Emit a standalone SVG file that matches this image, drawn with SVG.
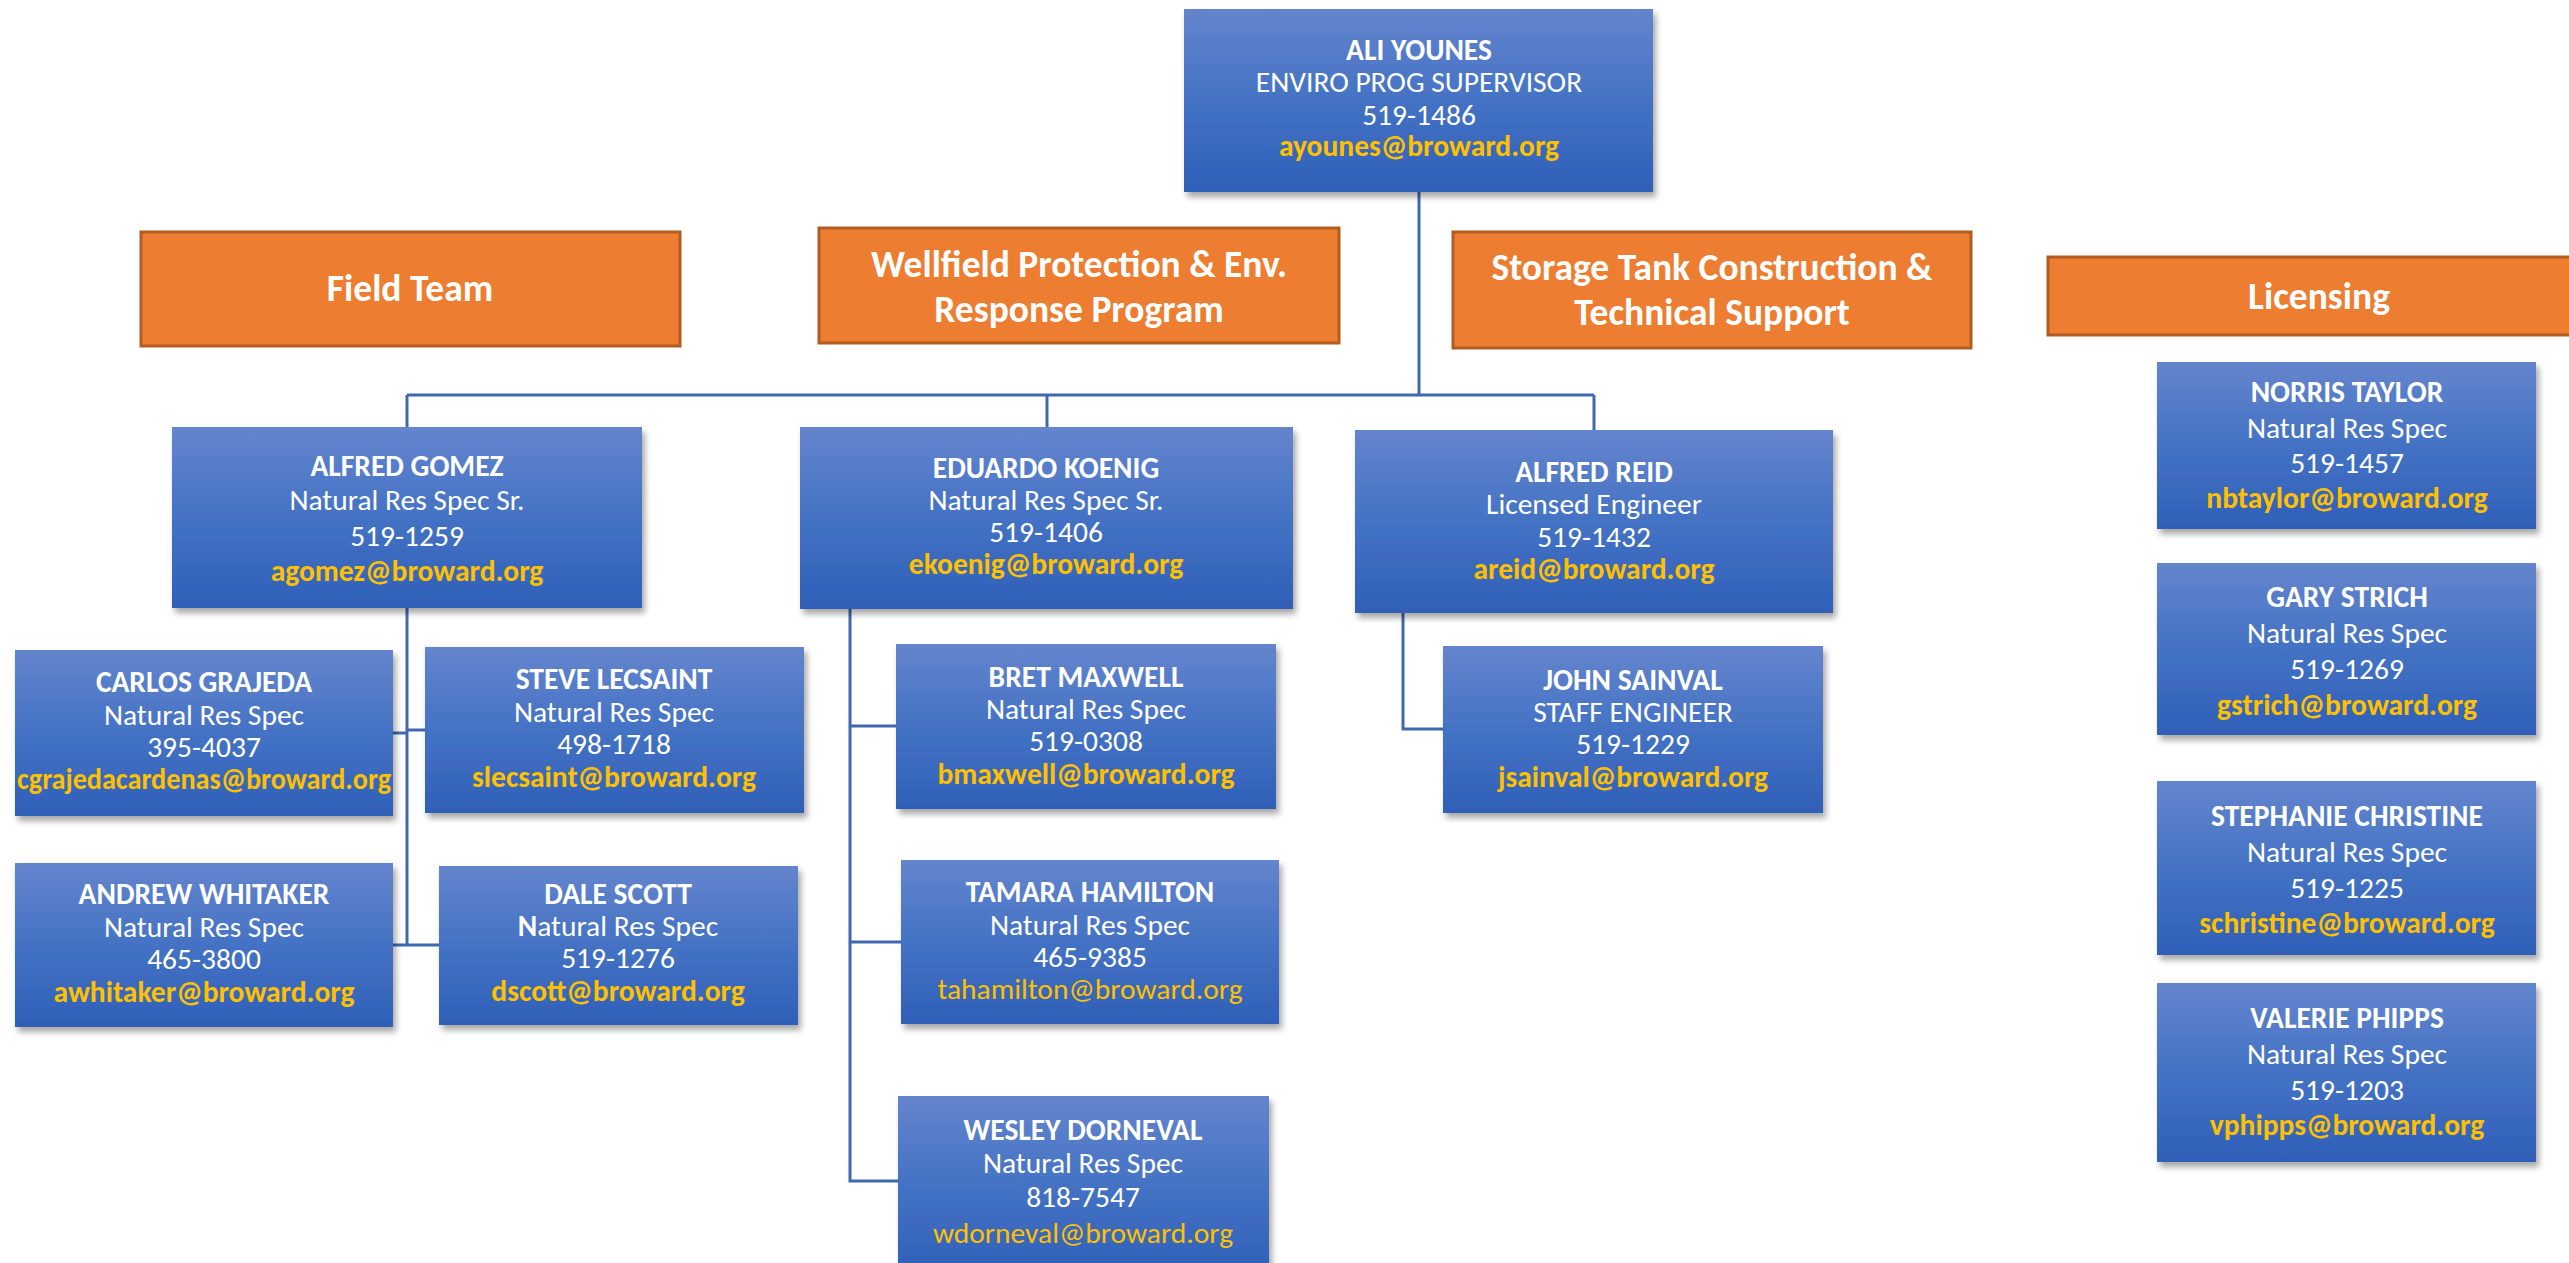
<svg xmlns="http://www.w3.org/2000/svg" width="2569" height="1263" viewBox="0 0 2569 1263">
<defs>
<linearGradient id="g" x1="0" y1="0" x2="0" y2="1">
<stop offset="0" stop-color="#6485CD"/>
<stop offset="0.5" stop-color="#4472C4"/>
<stop offset="1" stop-color="#2F60B8"/>
</linearGradient>
<filter id="sh" x="-5%" y="-5%" width="112%" height="120%">
<feDropShadow dx="3" dy="5" stdDeviation="3" flood-color="#000" flood-opacity="0.35"/>
</filter>
<style>
.box{fill:url(#g);filter:url(#sh)}
.hdr{fill:#ED7D31;stroke:#B25C22;stroke-width:3}
text{font-family:Calibri,Carlito,Lato,"Open Sans",sans-serif;text-anchor:middle;font-size:29.5px}
.n{fill:#fff;font-weight:bold}
.t{fill:#fff}
.e{fill:#FFC000;font-weight:bold}
.er{fill:#FFC000}
.h{fill:#fff;font-weight:bold;font-size:37.5px}
.c{fill:none;stroke:#4068B0;stroke-width:3}
</style>
</defs>
<rect width="2569" height="1263" fill="#fff"/>
<g id="connectors">
<path class="c" d="M1419 192V395M407 395H1594M407 395V427M1047 395V427M1594 395V430"/>
<path class="c" d="M407 608V945M393 733H407M407 730H425M393 945H439"/>
<path class="c" d="M850 609V1181H898M850 726H896M850 942H901"/>
<path class="c" d="M1403 613V729H1443"/>
</g>
<g id="hdr-field"><rect class="hdr" x="141" y="232" width="539" height="114"/><text class="h" x="410" y="301">Field Team</text></g>
<g id="hdr-wellfield"><rect class="hdr" x="819" y="228" width="520" height="115"/><text class="h" x="1079" y="277">Wellfield Protection &amp; Env.</text><text class="h" x="1079" y="322">Response Program</text></g>
<g id="hdr-storage"><rect class="hdr" x="1453" y="232" width="518" height="116"/><text class="h" x="1712" y="280">Storage Tank Construction &amp;</text><text class="h" x="1712" y="325">Technical Support</text></g>
<g id="hdr-licensing"><rect class="hdr" x="2048" y="257" width="540" height="78"/><text class="h" x="2319" y="309">Licensing</text></g>

<g id="ali"><rect class="box" x="1184" y="9" width="469" height="183"/>
<text class="n" x="1419" y="60">ALI YOUNES</text><text class="t" x="1419" y="92">ENVIRO PROG SUPERVISOR</text><text class="t" x="1419" y="125">519-1486</text><text class="e" x="1419" y="156">ayounes@broward.org</text></g>

<g id="gomez"><rect class="box" x="172" y="427" width="470" height="181"/>
<text class="n" x="407" y="476">ALFRED GOMEZ</text><text class="t" x="407" y="510">Natural Res Spec Sr.</text><text class="t" x="407" y="546">519-1259</text><text class="e" x="407" y="581">agomez@broward.org</text></g>

<g id="koenig"><rect class="box" x="800" y="427" width="493" height="182"/>
<text class="n" x="1046" y="478">EDUARDO KOENIG</text><text class="t" x="1046" y="510">Natural Res Spec Sr.</text><text class="t" x="1046" y="542">519-1406</text><text class="e" x="1046" y="574">ekoenig@broward.org</text></g>

<g id="reid"><rect class="box" x="1355" y="430" width="478" height="183"/>
<text class="n" x="1594" y="482">ALFRED REID</text><text class="t" x="1594" y="514">Licensed Engineer</text><text class="t" x="1594" y="547">519-1432</text><text class="e" x="1594" y="579">areid@broward.org</text></g>

<g id="carlos"><rect class="box" x="15" y="650" width="378" height="166"/>
<text class="n" x="204" y="692">CARLOS GRAJEDA</text><text class="t" x="204" y="725">Natural Res Spec</text><text class="t" x="204" y="757">395-4037</text><text class="e" x="204" y="789" textLength="374" lengthAdjust="spacingAndGlyphs">cgrajedacardenas@broward.org</text></g>

<g id="steve"><rect class="box" x="425" y="647" width="379" height="166"/>
<text class="n" x="614" y="689">STEVE LECSAINT</text><text class="t" x="614" y="722">Natural Res Spec</text><text class="t" x="614" y="754">498-1718</text><text class="e" x="614" y="787">slecsaint@broward.org</text></g>

<g id="andrew"><rect class="box" x="15" y="863" width="378" height="164"/>
<text class="n" x="204" y="904">ANDREW WHITAKER</text><text class="t" x="204" y="937">Natural Res Spec</text><text class="t" x="204" y="969">465-3800</text><text class="e" x="204" y="1002">awhitaker@broward.org</text></g>

<g id="dale"><rect class="box" x="439" y="866" width="359" height="159"/>
<text class="n" x="618" y="904">DALE SCOTT</text><text class="t" x="618" y="936"><tspan font-weight="bold">N</tspan>atural Res Spec</text><text class="t" x="618" y="968">519-1276</text><text class="e" x="618" y="1001">dscott@broward.org</text></g>

<g id="bret"><rect class="box" x="896" y="644" width="380" height="165"/>
<text class="n" x="1086" y="687">BRET MAXWELL</text><text class="t" x="1086" y="719">Natural Res Spec</text><text class="t" x="1086" y="751">519-0308</text><text class="e" x="1086" y="784">bmaxwell@broward.org</text></g>

<g id="tamara"><rect class="box" x="901" y="860" width="378" height="164"/>
<text class="n" x="1090" y="902">TAMARA HAMILTON</text><text class="t" x="1090" y="935">Natural Res Spec</text><text class="t" x="1090" y="967">465-9385</text><text class="er" x="1090" y="999">tahamilton@broward.org</text></g>

<g id="wesley"><rect class="box" x="898" y="1096" width="371" height="180"/>
<text class="n" x="1083" y="1140">WESLEY DORNEVAL</text><text class="t" x="1083" y="1173">Natural Res Spec</text><text class="t" x="1083" y="1207">818-7547</text><text class="er" x="1083" y="1243">wdorneval@broward.org</text></g>

<g id="john"><rect class="box" x="1443" y="646" width="380" height="167"/>
<text class="n" x="1633" y="690">JOHN SAINVAL</text><text class="t" x="1633" y="722">STAFF ENGINEER</text><text class="t" x="1633" y="754">519-1229</text><text class="e" x="1633" y="787">jsainval@broward.org</text></g>

<g id="norris"><rect class="box" x="2157" y="362" width="379" height="167"/>
<text class="n" x="2347" y="402">NORRIS TAYLOR</text><text class="t" x="2347" y="438">Natural Res Spec</text><text class="t" x="2347" y="473">519-1457</text><text class="e" x="2347" y="508">nbtaylor@broward.org</text></g>

<g id="gary"><rect class="box" x="2157" y="563" width="379" height="172"/>
<text class="n" x="2347" y="607">GARY STRICH</text><text class="t" x="2347" y="643">Natural Res Spec</text><text class="t" x="2347" y="679">519-1269</text><text class="e" x="2347" y="715">gstrich@broward.org</text></g>

<g id="stephanie"><rect class="box" x="2157" y="781" width="379" height="174"/>
<text class="n" x="2347" y="826">STEPHANIE CHRISTINE</text><text class="t" x="2347" y="862">Natural Res Spec</text><text class="t" x="2347" y="898">519-1225</text><text class="e" x="2347" y="933">schristine@broward.org</text></g>

<g id="valerie"><rect class="box" x="2157" y="983" width="379" height="179"/>
<text class="n" x="2347" y="1028">VALERIE PHIPPS</text><text class="t" x="2347" y="1064">Natural Res Spec</text><text class="t" x="2347" y="1100">519-1203</text><text class="e" x="2347" y="1135">vphipps@broward.org</text></g>
</svg>
